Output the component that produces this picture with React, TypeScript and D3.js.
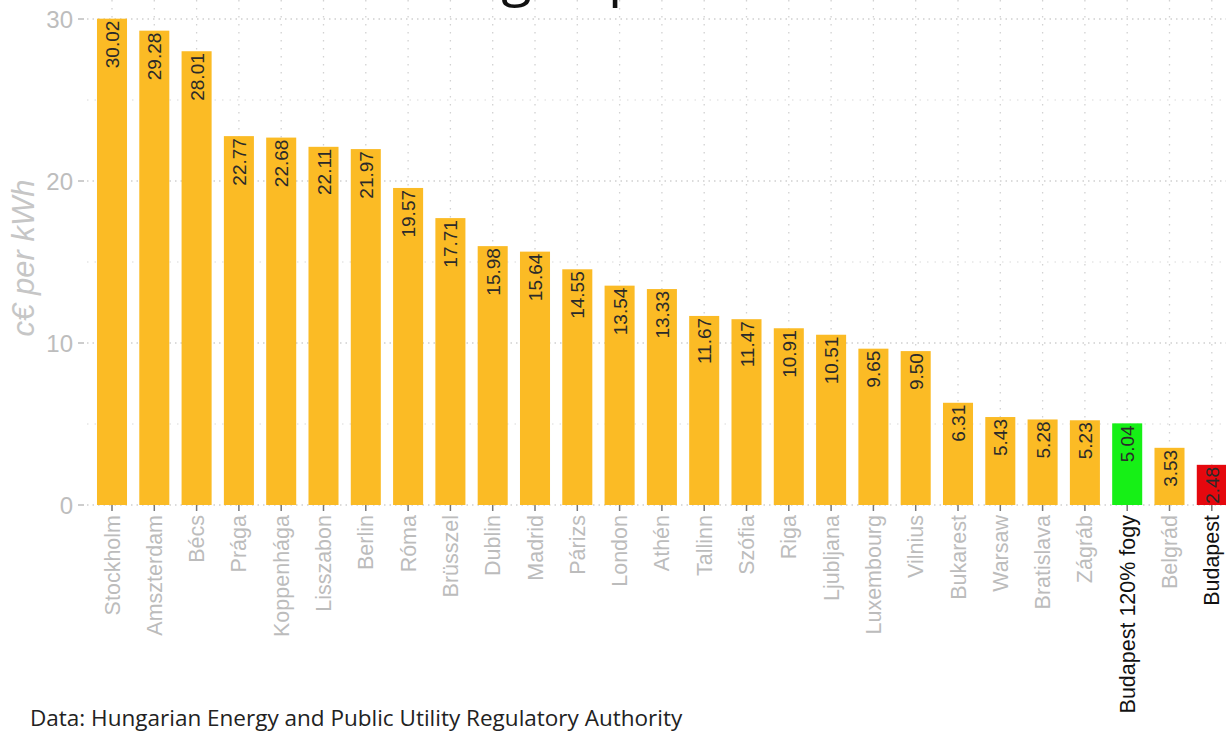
import * as d3 from "d3";
import { useEffect, useRef } from "react";

const cities = [
  "Stockholm", "Amszterdam", "Bécs", "Prága", "Koppenhága", "Lisszabon", "Berlin",
  "Róma", "Brüsszel", "Dublin", "Madrid", "Párizs", "London", "Athén", "Tallinn",
  "Szófia", "Riga", "Ljubljana", "Luxembourg", "Vilnius", "Bukarest", "Warsaw",
  "Bratislava", "Zágráb", "Budapest 120% fogy", "Belgrád", "Budapest",
];

const prices = [
  30.02, 29.28, 28.01, 22.77, 22.68, 22.11, 21.97, 19.57, 17.71, 15.98, 15.64,
  14.55, 13.54, 13.33, 11.67, 11.47, 10.91, 10.51, 9.65, 9.5, 6.31, 5.43, 5.28,
  5.23, 5.04, 3.53, 2.48,
];

const majorTicks = [0, 10, 20, 30];
const minorTicks = [5, 15, 25];

const highlight: Record<string, string> = {
  "Budapest 120% fogy": "#16f016",
  "Budapest": "#e5080e",
};

const barColor = "#fbbb25";
const axisGrey = "#bdbdbd";
const sans = "'Liberation Sans', Arial, sans-serif";

export default function App() {
  const svgRef = useRef<SVGSVGElement>(null);

  useEffect(() => {
    const width = 1226;
    const height = 735;

    const svg = d3.select(svgRef.current)
      .attr("width", width)
      .attr("height", height);

    svg.selectAll("*").remove();

    const left = 87;
    const step = 42.3;
    const firstCenter = 112;
    const start = firstCenter - step / 2;

    const x = d3.scaleBand<string>()
      .domain(cities)
      .range([start, start + step * cities.length])
      .paddingInner(0.29)
      .paddingOuter(0.145);

    const cx = (d: string) => x(d)! + x.bandwidth() / 2;

    const y = d3.scaleLinear().domain([0, 30]).range([505, 19]);

    // background
    svg.append("rect")
      .attr("width", width)
      .attr("height", height)
      .attr("fill", "#ffffff");

    // title (cut off at the top of the picture)
    svg.append("text")
      .attr("x", 563)
      .attr("y", -6)
      .attr("text-anchor", "end")
      .attr("font-family", "'Open Sans', sans-serif")
      .attr("font-size", 56)
      .attr("fill", "#111")
      .text("Average");
    svg.append("text")
      .attr("x", 608)
      .attr("y", -6)
      .attr("font-family", "'Open Sans', sans-serif")
      .attr("font-size", 56)
      .attr("fill", "#111")
      .text("prices");

    // grid
    const grid = svg.append("g");
    grid.selectAll("line.minor")
      .data(minorTicks)
      .join("line")
      .attr("x1", left)
      .attr("x2", width)
      .attr("y1", d => y(d))
      .attr("y2", d => y(d))
      .attr("stroke", "#dadada")
      .attr("stroke-width", 1.2)
      .attr("stroke-dasharray", "1.5,6");

    grid.selectAll("line.major")
      .data(majorTicks)
      .join("line")
      .attr("x1", left)
      .attr("x2", width)
      .attr("y1", d => y(d))
      .attr("y2", d => y(d))
      .attr("stroke", "#cfcfcf")
      .attr("stroke-width", 1.4)
      .attr("stroke-dasharray", "1.5,4");

    grid.selectAll("line.vert")
      .data(cities)
      .join("line")
      .attr("x1", cx)
      .attr("x2", cx)
      .attr("y1", 0)
      .attr("y2", y(0))
      .attr("stroke", "#d2d2d2")
      .attr("stroke-width", 1.3)
      .attr("stroke-dasharray", "1.5,6.5");

    // bars
    svg.append("g")
      .selectAll("rect")
      .data(cities)
      .join("rect")
      .attr("x", d => x(d)!)
      .attr("y", (d, i) => y(prices[i]))
      .attr("width", x.bandwidth())
      .attr("height", (d, i) => y(0) - y(prices[i]))
      .attr("fill", d => highlight[d] ?? barColor);

    // value labels
    svg.append("g")
      .selectAll("text")
      .data(cities)
      .join("text")
      .attr("transform", (d, i) =>
        `translate(${cx(d) + 7},${y(prices[i]) + 2}) rotate(-90)`)
      .attr("text-anchor", "end")
      .attr("font-family", sans)
      .attr("font-size", 19)
      .attr("fill", "#2a2a2a")
      .text((d, i) => prices[i].toFixed(2));

    // y axis
    const yAxis = svg.append("g");
    yAxis.selectAll("line")
      .data(majorTicks)
      .join("line")
      .attr("x1", 78)
      .attr("x2", 84)
      .attr("y1", d => y(d))
      .attr("y2", d => y(d))
      .attr("stroke", axisGrey)
      .attr("stroke-width", 1.5);
    yAxis.selectAll("text")
      .data(majorTicks)
      .join("text")
      .attr("x", 73)
      .attr("y", d => y(d) + 8.5)
      .attr("text-anchor", "end")
      .attr("font-family", sans)
      .attr("font-size", 24)
      .attr("fill", axisGrey)
      .text(d => d);

    svg.append("text")
      .attr("transform", `translate(34,258) rotate(-90)`)
      .attr("text-anchor", "middle")
      .attr("font-family", sans)
      .attr("font-style", "italic")
      .attr("font-size", 31)
      .attr("fill", "#c6c6c6")
      .text("c€ per kWh");

    // x axis
    const xAxis = svg.append("g");
    xAxis.selectAll("line")
      .data(cities)
      .join("line")
      .attr("x1", cx)
      .attr("x2", cx)
      .attr("y1", y(0))
      .attr("y2", y(0) + 6)
      .attr("stroke", "#777")
      .attr("stroke-width", 1.5);
    xAxis.selectAll("text")
      .data(cities)
      .join("text")
      .attr("transform", d => `translate(${cx(d) + 7.5},${y(0) + 10}) rotate(-90)`)
      .attr("text-anchor", "end")
      .attr("font-family", sans)
      .attr("font-size", 21.5)
      .attr("fill", d => highlight[d] ? "#111" : "#bcbcbc")
      .text(d => d);

    // caption
    svg.append("text")
      .attr("x", 30)
      .attr("y", 726)
      .attr("font-family", "'Open Sans', sans-serif")
      .attr("font-size", 22.5)
      .attr("fill", "#222")
      .text("Data: Hungarian Energy and Public Utility Regulatory Authority");
  }, []);

  return (
    <svg
      ref={svgRef}
      style={{ position: "absolute", left: 0, top: 0, display: "block" }}
    ></svg>
  );
}
